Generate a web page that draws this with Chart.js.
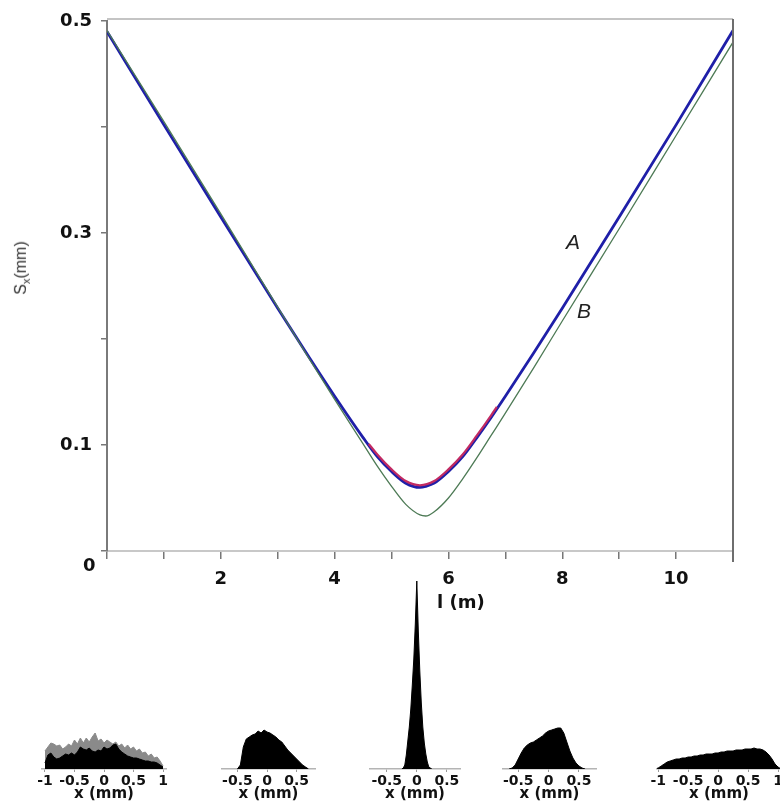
<!DOCTYPE html>
<html>
<head>
<meta charset="utf-8">
<script src="https://cdn.jsdelivr.net/npm/chart.js@4.4.1/dist/chart.umd.min.js"></script>
<style>
  html, body { margin: 0; padding: 0; background: #fff; overflow: hidden; }
  body { width: 780px; height: 802px; position: relative; }
  canvas { position: absolute; }
  .lbl { position: absolute; white-space: nowrap; color: #111; }
  .bold { font-family: "DejaVu Sans", sans-serif; font-weight: bold; font-size: 18px; }
  .ital { font-family: "Liberation Sans", Arial, sans-serif; font-style: italic; font-size: 21px; color: #222; }
  #ylab { font-family: "Liberation Sans", Arial, sans-serif; font-size: 16px; color: #333;
          transform: translate(-50%, -50%) rotate(-90deg); left: 22px; top: 268px; }
  #ylab sub { font-size: 11px; }
</style>
</head>
<body>
<canvas id="main" width="780" height="620" style="left:0;top:0"></canvas>
<canvas id="h1"></canvas>
<canvas id="h2"></canvas>
<canvas id="h3"></canvas>
<canvas id="h4"></canvas>
<canvas id="h5"></canvas>

<div class="lbl bold" style="left:83px;top:554px">0</div>
<div class="lbl bold" style="left:437px;top:591px">l (m)</div>
<div class="lbl ital" style="left:566px;top:230px">A</div>
<div class="lbl ital" style="left:577px;top:299px">B</div>
<div class="lbl" id="ylab">S<sub>x</sub>(mm)</div>

<script>
// beam size along the line
const lPos  = [0, 1, 2, 3, 3.5, 4, 4.5, 4.75, 5, 5.25, 5.5, 5.6, 5.75, 6, 6.25, 6.5, 6.75, 7, 7.5, 8, 9, 10, 11];
const sizeA = [0.490, 0.402, 0.315, 0.229, 0.187, 0.146, 0.107, 0.089, 0.075, 0.064, 0.060, 0.061, 0.064, 0.075, 0.089, 0.107, 0.126, 0.146, 0.187, 0.229, 0.315, 0.402, 0.491];
const sizeB = [0.491, 0.405, 0.318, 0.230, 0.186, 0.143, 0.101, 0.080, 0.061, 0.044, 0.034, 0.033, 0.037, 0.050, 0.068, 0.088, 0.109, 0.130, 0.173, 0.217, 0.304, 0.392, 0.480];

const lRed    = [4.6, 4.75, 5, 5.25, 5.5, 5.75, 6, 6.25, 6.5, 6.75, 6.85];
const sizeRed = [0.101, 0.091, 0.077, 0.066, 0.062, 0.066, 0.077, 0.091, 0.109, 0.128, 0.136];

const yLabelled = [0.1, 0.3, 0.5];
const xLabelled = [2, 4, 6, 8, 10];

// beam profiles (counts, arbitrary units)
const h1X = [-1, -0.95, -0.9, -0.85, -0.8, -0.75, -0.7, -0.65, -0.6, -0.55, -0.5, -0.45, -0.4, -0.35, -0.3, -0.25, -0.2, -0.15, -0.1, -0.05, 0,
             0.05, 0.1, 0.15, 0.2, 0.25, 0.3, 0.35, 0.4, 0.45, 0.5, 0.55, 0.6, 0.65, 0.7, 0.75, 0.8, 0.85, 0.9, 0.95, 1];
const h1Gray  = [18, 22, 26, 25, 23, 24, 20, 22, 25, 23, 29, 25, 31, 26, 31, 27, 32, 36, 28, 30, 26,
                 29, 27, 25, 27, 23, 25, 21, 24, 20, 22, 18, 20, 16, 17, 13, 15, 11, 12, 8, 3];
const h1Black = [6, 14, 16, 12, 10, 11, 13, 15, 14, 16, 14, 17, 22, 20, 19, 21, 18, 17, 19, 18, 22,
                 20, 21, 24, 25, 20, 17, 15, 13, 12, 11, 11, 10, 9, 8, 8, 7, 7, 6, 4, 2];

const h2X = [-0.5, -0.45, -0.4, -0.35, -0.3, -0.25, -0.2, -0.15, -0.1, -0.05, 0, 0.05, 0.1, 0.15, 0.2, 0.25, 0.3, 0.35, 0.4, 0.45, 0.5, 0.55, 0.6, 0.65, 0.7];
const h2Y = [0, 4, 22, 30, 32, 34, 35, 38, 36, 39, 37, 36, 34, 32, 29, 27, 23, 19, 16, 13, 10, 7, 4, 2, 0];

const h3X = [-0.25, -0.225, -0.2, -0.175, -0.15, -0.125, -0.1, -0.075, -0.05, -0.025, 0, 0.025, 0.05, 0.075, 0.1, 0.125, 0.15, 0.175, 0.2, 0.225, 0.25];
const h3Y = [0, 1, 4, 14, 28, 42, 60, 84, 110, 145, 188, 138, 98, 66, 42, 26, 15, 7, 2, 1, 0];

const h4X = [-0.65, -0.6, -0.55, -0.5, -0.45, -0.4, -0.35, -0.3, -0.25, -0.2, -0.15, -0.1, -0.05, 0, 0.05, 0.1, 0.15, 0.2, 0.25, 0.3, 0.35, 0.4, 0.45, 0.5, 0.55, 0.6];
const h4Y = [0, 1, 4, 10, 16, 21, 24, 26, 27, 29, 31, 33, 36, 38, 39, 40, 41, 41, 36, 27, 18, 11, 6, 3, 1, 0];

const h5X = [-1.05, -1, -0.95, -0.9, -0.85, -0.8, -0.75, -0.7, -0.65, -0.6, -0.55, -0.5, -0.45, -0.4, -0.35, -0.3, -0.25, -0.2, -0.15, -0.1, -0.05, 0,
             0.05, 0.1, 0.15, 0.2, 0.25, 0.3, 0.35, 0.4, 0.45, 0.5, 0.55, 0.6, 0.65, 0.7, 0.75, 0.8, 0.85, 0.9, 0.95, 1, 1.05];
const h5Y = [0, 1, 3, 5, 7, 8, 9, 10, 10, 11, 11, 12, 12, 13, 13, 14, 14, 15, 15, 15, 16, 16,
             17, 17, 18, 18, 18, 19, 19, 19, 20, 20, 20, 21, 20, 20, 19, 17, 14, 10, 5, 2, 0];

const hTicksWide = [-1, -0.5, 0, 0.5, 1];
const hTicksNarrow = [-0.5, 0, 0.5];

Chart.defaults.font.family = '"DejaVu Sans", sans-serif';
Chart.defaults.color = '#111';

const toPts = (xs, ys) => xs.map((x, i) => ({ x: x, y: ys[i] }));

// top and right frame lines
const framePlugin = {
    id: 'frame',
    afterDraw(chart) {
        const { ctx, chartArea: a } = chart;
        ctx.save();
        ctx.lineWidth = 2;
        ctx.strokeStyle = '#c4c4c4';
        ctx.beginPath();
        ctx.moveTo(a.left, a.top - 2);
        ctx.lineTo(a.right, a.top - 2);
        ctx.stroke();
        ctx.strokeStyle = '#6e6e6e';
        ctx.beginPath();
        ctx.moveTo(a.right, a.top - 2);
        ctx.lineTo(a.right, a.bottom + 11);
        ctx.stroke();
        ctx.restore();
    }
};

new Chart(document.getElementById('main'), {
    type: 'line',
    data: {
        datasets: [
            {
                label: 'B',
                data: toPts(lPos, sizeB),
                borderColor: '#4d7a55',
                borderWidth: 1.3,
                pointRadius: 0,
                cubicInterpolationMode: 'monotone'
            },
            {
                label: 'A (red)',
                data: toPts(lRed, sizeRed),
                borderColor: '#c22a62',
                borderWidth: 2.2,
                pointRadius: 0,
                cubicInterpolationMode: 'monotone'
            },
            {
                label: 'A',
                data: toPts(lPos, sizeA),
                borderColor: '#1f1fa8',
                borderWidth: 2.8,
                pointRadius: 0,
                cubicInterpolationMode: 'monotone'
            }
        ]
    },
    options: {
        responsive: false,
        animation: false,
        devicePixelRatio: 1,
        layout: { padding: { top: 21, right: 47, left: 0, bottom: 0 } },
        plugins: { legend: { display: false }, tooltip: { enabled: false } },
        scales: {
            x: {
                type: 'linear',
                min: 0,
                max: 11,
                afterFit: (s) => { s.height = 69; },
                border: { color: '#c8c8c8', width: 2 },
                grid: { drawOnChartArea: false, drawTicks: true, tickLength: 8, color: '#777', lineWidth: 1.5 },
                ticks: {
                    stepSize: 1,
                    autoSkip: false,
                    maxRotation: 0,
                    padding: 10,
                    font: { size: 18, weight: 'bold' },
                    callback: (v) => xLabelled.includes(v) ? String(v) : ''
                }
            },
            y: {
                min: 0,
                max: 0.5,
                afterFit: (s) => { s.width = 107; },
                border: { color: '#7a7a7a', width: 2 },
                grid: { drawOnChartArea: false, drawTicks: true, tickLength: 6, color: '#777', lineWidth: 1.5 },
                ticks: {
                    stepSize: 0.1,
                    autoSkip: false,
                    padding: 9,
                    font: { size: 18, weight: 'bold' },
                    callback: (v) => {
                        const r = Math.round(v * 10) / 10;
                        return yLabelled.includes(r) ? String(r) : '';
                    }
                }
            }
        }
    },
    plugins: [framePlugin]
});

// small profile plots under the main chart
const panels = [
    { id: 'h1', left: 42,  width: 124, min: -1.05, max: 1.05, ticks: hTicksWide,
      sets: [[h1X, h1Black, '#000'], [h1X, h1Gray, '#8a8a8a']] },
    { id: 'h2', left: 222, width: 93,  min: -0.76, max: 0.81, ticks: hTicksNarrow, sets: [[h2X, h2Y, '#000']] },
    { id: 'h3', left: 370, width: 90,  min: -0.78, max: 0.72, ticks: hTicksNarrow, sets: [[h3X, h3Y, '#000']] },
    { id: 'h4', left: 503, width: 93,  min: -0.75, max: 0.78, ticks: hTicksNarrow, sets: [[h4X, h4Y, '#000']] },
    { id: 'h5', left: 657, width: 124, min: -1.02, max: 1.05, ticks: hTicksWide, sets: [[h5X, h5Y, '#000']] }
];

const PAD = 25;
panels.forEach((p) => {
    const cv = document.getElementById(p.id);
    cv.width = p.width + 2 * PAD;
    cv.height = 233;
    cv.style.left = (p.left - PAD) + 'px';
    cv.style.top = '569px';

    new Chart(cv, {
        type: 'line',
        data: {
            datasets: p.sets.map(([xs, ys, col]) => ({
                data: toPts(xs, ys),
                borderColor: col,
                backgroundColor: col,
                borderWidth: 1,
                pointRadius: 0,
                tension: 0,
                fill: 'origin'
            }))
        },
        options: {
            responsive: false,
            animation: false,
            devicePixelRatio: 1,
            layout: { padding: { left: PAD, right: PAD, top: 0, bottom: 0 } },
            plugins: { legend: { display: false }, tooltip: { enabled: false } },
            scales: {
                x: {
                    type: 'linear',
                    min: p.min,
                    max: p.max,
                    afterFit: (s) => { s.height = 33; },
                    afterBuildTicks: (s) => { s.ticks = p.ticks.map((v) => ({ value: v })); },
                    border: { color: '#b4b4b4', width: 1.5 },
                    grid: { drawOnChartArea: false, drawTicks: true, tickLength: 3, color: '#999' },
                    ticks: {
                        autoSkip: false,
                        maxRotation: 0,
                        padding: 1,
                        font: { size: 14, weight: 'bold' },
                        callback: (v) => String(v)
                    },
                    title: {
                        display: true,
                        text: 'x (mm)',
                        font: { size: 15, weight: 'bold' },
                        padding: { top: 0, bottom: -1 }
                    }
                },
                y: { display: false, min: 0, max: 200 }
            }
        }
    });
});
</script>
</body>
</html>
